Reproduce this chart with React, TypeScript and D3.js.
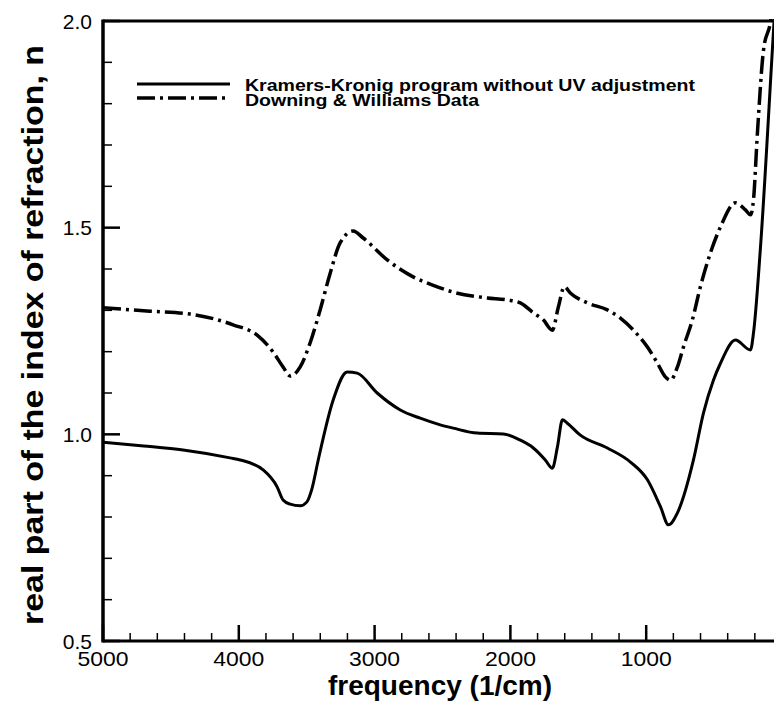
import React from "react";
import * as d3 from "d3";

// Kramers-Kronig program without UV adjustment (frequency 1/cm, n)
const kkFreq = [5000, 4700, 4410, 4064, 3990, 3821, 3718, 3674, 3622, 3548, 3500, 3460, 3415, 3305, 3202, 3128, 2981, 2811, 2664, 2517, 2421, 2244, 2052, 1927, 1831, 1743, 1691, 1654, 1617, 1581, 1485, 1286, 1116, 991, 895, 836, 770, 652, 578, 505, 453, 343, 232, 210, 159, 63, 30];
const kkN = [0.981, 0.972, 0.962, 0.943, 0.938, 0.914, 0.873, 0.841, 0.831, 0.827, 0.836, 0.87, 0.938, 1.083, 1.151, 1.148, 1.1, 1.059, 1.039, 1.023, 1.015, 1.003, 1.001, 0.986, 0.967, 0.938, 0.918, 0.969, 1.035, 1.027, 0.998, 0.967, 0.933, 0.89, 0.825, 0.781, 0.81, 0.938, 1.052, 1.131, 1.172, 1.228, 1.204, 1.245, 1.45, 1.974, 2.15];

// Downing & Williams Data
const dwFreq = [5000, 4654, 4359, 4042, 3865, 3747, 3674, 3622, 3548, 3475, 3401, 3327, 3254, 3158, 3084, 2907, 2716, 2539, 2421, 2170, 2023, 1927, 1831, 1758, 1691, 1647, 1603, 1559, 1433, 1286, 1190, 1094, 991, 917, 859, 822, 770, 726, 660, 601, 527, 453, 343, 269, 232, 210, 181, 136, 85, 60];
const dwN = [1.306, 1.298, 1.291, 1.265, 1.24, 1.199, 1.163, 1.141, 1.163, 1.221, 1.301, 1.39, 1.463, 1.492, 1.475, 1.422, 1.381, 1.357, 1.344, 1.33, 1.325, 1.318, 1.294, 1.277, 1.252, 1.308, 1.357, 1.342, 1.318, 1.301, 1.281, 1.252, 1.211, 1.172, 1.139, 1.131, 1.163, 1.211, 1.277, 1.357, 1.439, 1.502, 1.56, 1.543, 1.531, 1.567, 1.729, 1.93, 1.998, 2.06];

const xMajorTicks = [5000, 4000, 3000, 2000, 1000];
const xMinorTicks = d3.range(4800, 0, -200).filter((v) => v % 1000 !== 0);
const yMajorTicks = [0.5, 1.0, 1.5, 2.0];
const yMajorLabels = ["0.5", "1.0", "1.5", "2.0"];
const yMinorTicks = d3.range(0.6, 2.0, 0.1).filter((v) => Math.abs(v * 2 - Math.round(v * 2)) > 0.01);

const legendLabels = ["Kramers-Kronig program without UV adjustment", "Downing & Williams Data"];
const xTitle = "frequency (1/cm)";
const yTitle = "real part of the index of refraction, n";

const W = 774;
const H = 703;
const left = 103;
const right = 782;
const top = 21;
const bottom = 641;
const font = "'Liberation Sans', Arial, Helvetica, sans-serif";

export default function App() {
  const x = d3.scaleLinear().domain([5000, 0]).range([left, right]);
  const y = d3.scaleLinear().domain([0.5, 2.0]).range([bottom, top]);
  const line = d3
    .line<[number, number]>()
    .x((d) => x(d[0]))
    .y((d) => y(d[1]))
    .curve(d3.curveMonotoneX);
  const kk = kkFreq.map((f, i) => [f, kkN[i]] as [number, number]);
  const dw = dwFreq.map((f, i) => [f, dwN[i]] as [number, number]);
  const dash = "18 5 3 5";

  return (
    <svg
      width={W}
      height={H}
      style={{ position: "absolute", left: 0, top: 0, background: "#fff" }}
      fontFamily={font}
    >
      <defs>
        <clipPath id="plotclip">
          <rect x={left} y={top - 2} width={right - left} height={bottom - top + 2} />
        </clipPath>
      </defs>
      <rect x={0} y={0} width={W} height={H} fill="#fff" />

      {/* curves */}
      <g clipPath="url(#plotclip)" fill="none" stroke="#000">
        <path d={line(kk) || ""} strokeWidth={3} strokeLinejoin="round" />
        <path d={line(dw) || ""} strokeWidth={3.5} strokeDasharray={dash} />
      </g>

      {/* frame */}
      <line x1={left} x2={left} y1={top - 1.5} y2={bottom + 1.5} stroke="#000" strokeWidth={3.5} />
      <line x1={left} x2={right} y1={bottom} y2={bottom} stroke="#000" strokeWidth={3} />
      <line x1={left} x2={right} y1={top} y2={top} stroke="#000" strokeWidth={3} />

      {/* x ticks */}
      {xMajorTicks.map((t) => (
        <line key={"xM" + t} x1={x(t)} x2={x(t)} y1={bottom} y2={bottom - 16} stroke="#000" strokeWidth={2.5} />
      ))}
      {xMinorTicks.map((t) => (
        <line key={"xm" + t} x1={x(t)} x2={x(t)} y1={bottom} y2={bottom - 8} stroke="#000" strokeWidth={1.5} />
      ))}
      {xMajorTicks.map((t) => (
        <text key={"xl" + t} x={x(t)} y={666} textAnchor="middle" fontSize={21} textLength={51} lengthAdjust="spacingAndGlyphs" fill="#000">
          {String(t)}
        </text>
      ))}

      {/* y ticks */}
      {yMajorTicks.map((t) => (
        <line key={"yM" + t} x1={left} x2={left + 17} y1={y(t)} y2={y(t)} stroke="#000" strokeWidth={2.5} />
      ))}
      {yMinorTicks.map((t) => (
        <line key={"ym" + t} x1={left} x2={left + 9} y1={y(t)} y2={y(t)} stroke="#000" strokeWidth={1.5} />
      ))}
      {yMajorTicks.map((t, i) => (
        <text key={"yl" + t} x={92} y={y(t) + 7.5} textAnchor="end" fontSize={21} fill="#000">
          {yMajorLabels[i]}
        </text>
      ))}

      {/* titles */}
      <text x={440} y={695} textAnchor="middle" fontSize={28} fontWeight="bold" fill="#000">
        {xTitle}
      </text>
      <text
        transform={`translate(43,335) rotate(-90)`}
        textAnchor="middle"
        fontSize={30}
        fontWeight="bold"
        textLength={580}
        lengthAdjust="spacingAndGlyphs"
        fill="#000"
      >
        {yTitle}
      </text>

      {/* legend */}
      <line x1={137} x2={230} y1={84} y2={84} stroke="#000" strokeWidth={3} />
      <line x1={137} x2={230} y1={98} y2={98} stroke="#000" strokeWidth={3.5} strokeDasharray={dash} />
      <text x={245} y={90.5} fontSize={17} fontWeight="bold" textLength={450} lengthAdjust="spacingAndGlyphs" fill="#000">
        {legendLabels[0]}
      </text>
      <text x={245} y={106} fontSize={17} fontWeight="bold" textLength={234} lengthAdjust="spacingAndGlyphs" fill="#000">
        {legendLabels[1]}
      </text>
    </svg>
  );
}
